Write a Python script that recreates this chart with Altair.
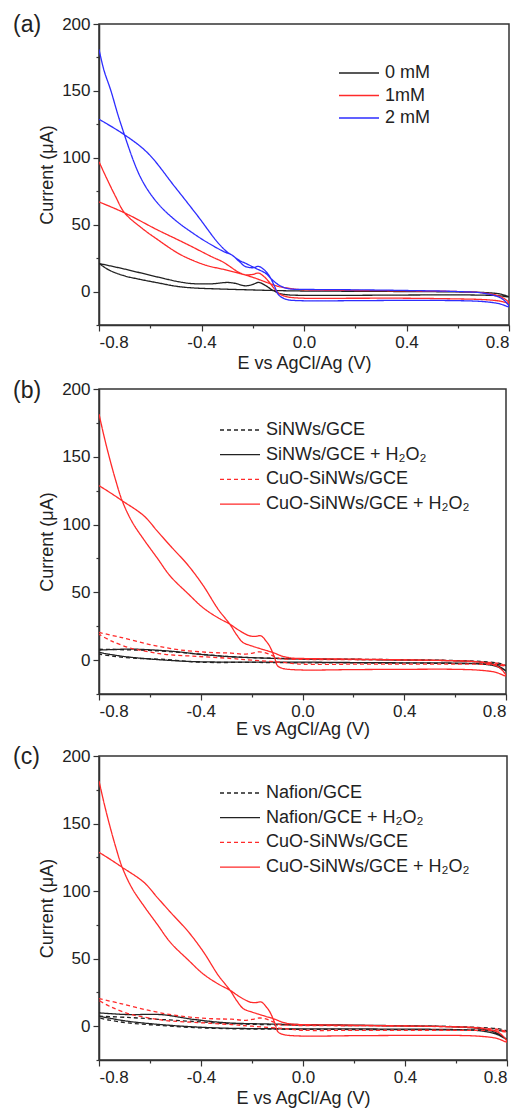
import altair as alt
import pandas as pd

FONT = "Liberation Sans"
BLACK = "#222222"
RED = "#ff2a2a"
BLUE = "#2e2eff"

# ---------------- Panel (a) ----------------
A_NAMES = ["0 mM", "1mM", "2 mM"]
# each path: first branch from -0.8 to 0.8, then second branch back to -0.8
A0_E = [-0.8, -0.7, -0.57, -0.493, -0.44, -0.36, -0.3, -0.27, -0.23, -0.2, -0.177, -0.15, -0.125,
        -0.099, -0.07, -0.04, 0.0, 0.2, 0.4, 0.6, 0.7, 0.76, 0.8,
        0.77, 0.72, 0.6, 0.4, 0.2, 0.0, -0.1, -0.2, -0.31, -0.44, -0.5, -0.57, -0.65, -0.7, -0.76, -0.8]
A0_I = [21, 16.8, 10.8, 7.5, 6.0, 5.8, 6.8, 6.2, 4.3, 5.3, 6.8, 4.5, 1.3,
        -1.2, -2.3, -2.7, -2.8, -2.8, -2.6, -2.5, -2.7, -3.1, -4.0,
        -2.0, -0.9, -0.3, 0.0, 0.2, 0.4, 0.7, 1.2, 1.8, 2.8, 4.0, 6.5, 9.5, 11.7, 16.0, 21]

A1_E = [-0.8, -0.768, -0.736, -0.7, -0.63, -0.571, -0.493, -0.44, -0.38, -0.308, -0.256, -0.23,
        -0.2, -0.177, -0.155, -0.138, -0.115, -0.099, -0.075, -0.059, 0.0, 0.2, 0.4, 0.6, 0.7, 0.76, 0.8,
        0.77, 0.7, 0.6, 0.4, 0.2, 0.0, -0.033, -0.06, -0.099, -0.138, -0.19, -0.23, -0.256, -0.295,
        -0.32, -0.36, -0.44, -0.493, -0.571, -0.7, -0.8]
A1_I = [97, 83.8, 71.3, 58.8, 47, 38.8, 28.8, 23.8, 19.5, 16.3, 13.8, 12.5,
        12.8, 13.8, 11, 7.5, 2, -1.3, -3.5, -4.2, -5, -5, -5, -5.5, -6, -7, -8.5,
        -4.0, -1.0, 0.0, 0.5, 0.8, 1.3, 1.8, 2.5, 3.8, 6.3, 10, 12.5, 14.5, 19.5,
        22.5, 26, 33.8, 38.8, 46, 58.8, 67]

A2_E = [-0.8, -0.78, -0.755, -0.716, -0.637, -0.571, -0.5, -0.44, -0.38, -0.309, -0.283,
        -0.25, -0.23, -0.2, -0.177, -0.16, -0.138, -0.115, -0.099, -0.075, -0.059, 0.0, 0.2, 0.4,
        0.6, 0.7, 0.76, 0.8,
        0.77, 0.7, 0.6, 0.4, 0.2, 0.0, -0.046, -0.07, -0.099, -0.125, -0.151, -0.19, -0.23, -0.25,
        -0.283, -0.296, -0.335, -0.414, -0.506, -0.611, -0.703, -0.8]
A2_I = [181, 165, 151, 126, 85, 66, 53, 44.5, 37, 29.5, 27.5,
        22, 18.8, 17.8, 18.8, 17, 12.5, 4, -2.5, -5.5, -6.3, -6.9, -6.8, -6.6,
        -6.8, -7.5, -9, -11.2,
        -5, -1.2, 0.0, 0.8, 1.3, 1.6, 1.8, 2.5, 5, 9, 13.8, 17.5, 21.3, 23,
        27.5, 29, 36.3, 56.3, 78.8, 103.8, 117.5, 128.8]

# ---------------- Shared CuO-SiNWs curves (b) and (c) ----------------
CUO_H2O2_E = [-0.8, -0.78, -0.76, -0.735, -0.709, -0.67, -0.624, -0.57, -0.52, -0.45, -0.39, -0.33,
              -0.286, -0.25, -0.208, -0.185, -0.163, -0.145, -0.13, -0.11, -0.098, -0.08, -0.065,
              0.0, 0.2, 0.4, 0.6, 0.7, 0.76, 0.8,
              0.77, 0.7, 0.6, 0.4, 0.2, 0.0, -0.04, -0.078, -0.117, -0.15, -0.2, -0.234, -0.26,
              -0.286, -0.332, -0.39, -0.45, -0.52, -0.57, -0.624, -0.709, -0.76, -0.8]
CUO_H2O2_I = [181.5, 165, 150, 133, 117.6, 102, 89, 75, 62, 49, 38.5, 31,
              26.6, 22, 17.9, 17.5, 17.9, 14.5, 10.6, 2, -4.2, -6, -6.6,
              -7.3, -7, -6.8, -6.8, -7.5, -9, -11.6,
              -5, -1.5, -0.5, 0.2, 0.7, 1.2, 1.5, 2.8, 5.7, 7.5, 10.5, 13, 19,
              26.6, 37.6, 54.9, 70, 84.4, 95, 106.5, 117.6, 124, 128.7]

CUO_E = [-0.8, -0.72, -0.6, -0.48, -0.35, -0.28, -0.23, -0.2, -0.169, -0.14, -0.117, -0.09, -0.05,
         0.0, 0.2, 0.4, 0.6, 0.7, 0.77, 0.8,
         0.75, 0.6, 0.4, 0.2, 0.0, -0.078, -0.2, -0.28, -0.41, -0.54, -0.6, -0.67, -0.75, -0.8]
CUO_I = [20.4, 17, 11.5, 7.5, 5.5, 5.2, 4.4, 5.0, 6.1, 5.0, 3.2, 1.2, 0.7,
         0.5, 0.3, 0.0, -0.5, -1.5, -2.5, -4.2,
         -3.3, -3.0, -3.0, -3.0, -3.0, -1.7, 0.0, 1.2, 2.7, 4.2, 6.0, 8.5, 14, 19]

# ---------------- Panel (b) ----------------
B_NAMES = ["SiNWs/GCE", "SiNWs/GCE + H\u2082O\u2082", "CuO-SiNWs/GCE", "CuO-SiNWs/GCE + H\u2082O\u2082"]
SI_E = [-0.8, -0.67, -0.54, -0.41, -0.28, -0.15, 0.0, 0.4, 0.6, 0.7, 0.77, 0.8,
        0.75, 0.6, 0.4, 0.0, -0.2, -0.41, -0.54, -0.67, -0.75, -0.8]
SI_I = [8, 7.5, 6.5, 4.5, 2.5, 1.5, 1.0, 0.3, -0.3, -1, -2.2, -4,
        -3, -2.5, -2.2, -2, -1.7, -1.5, 0.5, 1.5, 3, 4.4]
SI_H2O2_E = [-0.8, -0.67, -0.54, -0.468, -0.41, -0.28, -0.15, 0.0, 0.2, 0.4, 0.6, 0.7, 0.76, 0.8,
             0.76, 0.7, 0.6, 0.4, 0.2, 0.0, -0.2, -0.41, -0.54, -0.67, -0.75, -0.8]
SI_H2O2_I = [7.4, 8.1, 6.9, 5.7, 4.4, 2.5, 1.5, 0.8, 0.5, 0.0, -0.5, -1.5, -3.5, -7.9,
             -4.5, -2.8, -2.2, -2.0, -1.8, -1.5, -1.5, -1.2, 0.0, 2.0, 4.0, 5.7]

# ---------------- Panel (c) ----------------
C_NAMES = ["Nafion/GCE", "Nafion/GCE + H\u2082O\u2082", "CuO-SiNWs/GCE ", "CuO-SiNWs/GCE + H\u2082O\u2082 "]
NAF_E = [-0.8, -0.687, -0.557, -0.427, -0.297, -0.15, 0.0, 0.4, 0.6, 0.7, 0.77, 0.8,
         0.75, 0.6, 0.4, 0.0, -0.297, -0.427, -0.557, -0.687, -0.76, -0.8]
NAF_I = [7.4, 6.5, 5.0, 3.5, 2.0, 1.2, 0.8, 0.2, -0.3, -1.0, -2.0, -3.7,
         -3.0, -2.7, -2.5, -2.3, -1.8, -1.0, 0.5, 2.5, 4.5, 6.2]
NAF_H2O2_E = [-0.8, -0.687, -0.557, -0.427, -0.297, -0.15, 0.0, 0.2, 0.4, 0.6, 0.7, 0.76, 0.8,
              0.76, 0.7, 0.6, 0.4, 0.2, 0.0, -0.15, -0.297, -0.427, -0.557, -0.687, -0.76, -0.8]
NAF_H2O2_I = [9.9, 8.6, 8.6, 5.0, 2.5, 1.7, 1.2, 0.8, 0.3, -0.5, -2.0, -5.0, -10.0,
              -6.0, -3.5, -2.5, -2.2, -2.0, -2.0, -1.8, -1.5, -0.5, 1.2, 3.7, 6.0, 7.4]

X_MAJOR = [-0.8, -0.4, 0.0, 0.4, 0.8]
X_MINOR = [-0.6, -0.2, 0.2, 0.6]
Y_MAJOR = [0, 50, 100, 150, 200]
Y_MINOR = [-25, 25, 75, 125, 175]


def frame(curves):
    rows = []
    for name, es, is_ in curves:
        for k, (e, i) in enumerate(zip(es, is_)):
            rows.append({"series": name, "E": e, "I": i, "order": k})
    return pd.DataFrame(rows)


def panel(df, names, colors, dashes, label, label_dy, w, h, lx, ly, rowpad, xtitlepad):
    xs = alt.Scale(domain=[-0.8, 0.8], nice=False, zero=False)
    ys = alt.Scale(domain=[-25, 200], nice=False, zero=False)
    leg = alt.Legend(orient="none", legendX=lx, legendY=ly, title=None,
                     symbolType="M-4,0H4", symbolSize=100, symbolStrokeWidth=1.3,
                     labelFontSize=18, labelOffset=17, rowPadding=rowpad, padding=0,
                     labelFont=FONT, labelColor="#222222", labelLimit=400)
    lines = alt.Chart(df).mark_line(interpolate="catmull-rom", strokeWidth=1.3, clip=True).encode(
        x=alt.X("E:Q", scale=xs, axis=alt.Axis(
            values=X_MAJOR, title="E vs AgCl/Ag (V)", tickSize=6, labelPadding=3,
            labelExpr="replace(format(datum.value, '.1f'), '\u2212', '-')",
            titlePadding=xtitlepad, grid=False, orient="bottom")),
        y=alt.Y("I:Q", scale=ys, axis=alt.Axis(
            values=Y_MAJOR, title="Current (\u03bcA)", tickSize=6, labelPadding=3,
            format="d", titlePadding=5, grid=False, orient="left")),
        color=alt.Color("series:N", scale=alt.Scale(domain=names, range=colors), legend=leg),
        strokeDash=alt.StrokeDash("series:N", scale=alt.Scale(domain=names, range=dashes), legend=leg),
        order=alt.Order("order:Q"),
    )
    minor = alt.Chart(df).mark_point(opacity=0).encode(
        x=alt.X("E:Q", scale=xs, axis=alt.Axis(values=X_MINOR, labels=False, domain=False,
                                              tickSize=3, grid=False, title=None, orient="bottom")),
        y=alt.Y("I:Q", scale=ys, axis=alt.Axis(values=Y_MINOR, labels=False, domain=False,
                                              tickSize=3, grid=False, title=None, orient="left")),
    )
    lab = alt.Chart(pd.DataFrame({"t": [label]})).mark_text(
        align="left", baseline="middle", fontSize=23, font=FONT, color="#222222"
    ).encode(text="t:N", x=alt.value(-86), y=alt.value(label_dy))
    return alt.layer(lines, minor, lab).resolve_axis(x="independent", y="independent").properties(
        width=w, height=h)


SOLID = [1, 0]
DASH = [4, 3]

dfa = frame([(A_NAMES[0], A0_E, A0_I), (A_NAMES[1], A1_E, A1_I), (A_NAMES[2], A2_E, A2_I)])
dfb = frame([(B_NAMES[0], SI_E, SI_I), (B_NAMES[1], SI_H2O2_E, SI_H2O2_I),
             (B_NAMES[2], CUO_E, CUO_I), (B_NAMES[3], CUO_H2O2_E, CUO_H2O2_I)])
dfc = frame([(C_NAMES[0], NAF_E, NAF_I), (C_NAMES[1], NAF_H2O2_E, NAF_H2O2_I),
             (C_NAMES[2], CUO_E, CUO_I), (C_NAMES[3], CUO_H2O2_E, CUO_H2O2_I)])

pa = panel(dfa, A_NAMES, [BLACK, RED, BLUE], [SOLID, SOLID, SOLID], "(a)", 1,
           410, 301, 251, 40, 4.5, 4)
pb = panel(dfb, B_NAMES, [BLACK, BLACK, RED, RED], [DASH, SOLID, DASH, SOLID], "(b)", 2,
           407, 305, 132, 32, 6.7, 1)
pc = panel(dfc, C_NAMES, [BLACK, BLACK, RED, RED], [DASH, SOLID, DASH, SOLID], "(c)", 1,
           408, 304, 132, 28, 6.7, 4)

chart = alt.vconcat(pa, pb, pc, spacing=6).resolve_scale(
    color="independent", strokeDash="independent"
).resolve_legend(color="independent", strokeDash="independent").properties(
    padding={"left": 12, "top": 13, "right": 0, "bottom": 0}
).configure_view(stroke="#333333", strokeWidth=1.5).configure_axis(
    labelFont=FONT, titleFont=FONT, labelFontSize=17, titleFontSize=18,
    labelColor="#222222", titleColor="#222222", titleFontWeight="normal",
    domainColor="#333333", tickColor="#333333", domainWidth=1.5, tickWidth=1.2
)

chart.save("out.html", embed_options={"renderer": "svg", "actions": False})
